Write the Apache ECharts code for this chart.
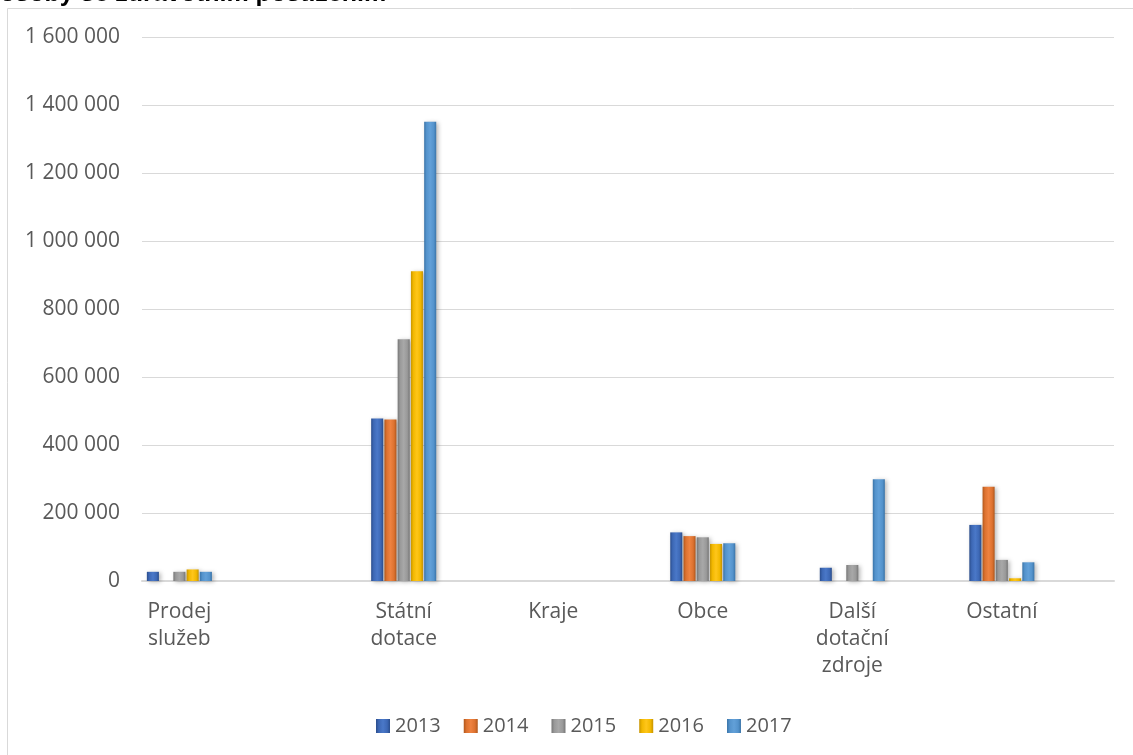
<!DOCTYPE html>
<html>
<head>
<meta charset="utf-8">
<title>Zdroje financování</title>
<script src="https://cdn.jsdelivr.net/npm/echarts@6/dist/echarts.min.js"></script>
<style>
  html, body { margin: 0; padding: 0; background: #ffffff; }
  #chart { width: 1133px; height: 755px; }
</style>
</head>
<body>
<div id="chart"></div>
<script>
// Funding sources by year
const categories = ['Prodej služeb', 'Státní dotace', 'Kraje', 'Obce', 'Další dotační zdroje', 'Ostatní'];
const years = ['2013', '2014', '2015', '2016', '2017'];
const values2013 = [27000, 478000, 0, 143000, 39000, 165000];
const values2014 = [0, 475000, 0, 132000, 0, 277000];
const values2015 = [27000, 711000, 0, 128500, 47000, 62000];
const values2016 = [34000, 911000, 0, 109000, 0, 8000];
const values2017 = [27000, 1351000, 0, 111000, 299000, 55000];
const yTicks = { min: 0, max: 1600000, step: 200000 };

// Category slots along the axis (narrow slots, some left empty as spacing)
const slotCount = 13;
const slotOf = [0, 3, 5, 7, 9, 11];

function spread(list) {
  const out = new Array(slotCount).fill(null);
  slotOf.forEach((s, i) => { out[s] = list[i]; });
  return out;
}
const axisNames = spread(categories).map(v => v === null ? '' : v);

// Bevel-like horizontal gradient per series
function bevel(dark, mid, light) {
  return {
    type: 'linear', x: 0, y: 0, x2: 1, y2: 0,
    colorStops: [
      { offset: 0, color: dark },
      { offset: 0.2, color: mid },
      { offset: 0.5, color: light },
      { offset: 0.8, color: mid },
      { offset: 1, color: dark }
    ]
  };
}
const palette = [
  bevel('#2a4d8c', '#3d68b5', '#4a78c8'),
  bevel('#b0571b', '#dd7230', '#ee8240'),
  bevel('#767676', '#999999', '#a8a8a8'),
  bevel('#c79400', '#f2b800', '#ffc61a'),
  bevel('#3a74a8', '#5493cc', '#62a0d8')
];
const seriesValues = [values2013, values2014, values2015, values2016, values2017];

const fontFamily = '"Open Sans", "Noto Sans", sans-serif';

function fmt(v) {
  return String(v).replace(/\B(?=(\d{3})+(?!\d))/g, ' ');
}

const chart = echarts.init(document.getElementById('chart'));
chart.setOption({
  animation: false,
  backgroundColor: '#ffffff',
  graphic: [
    {
      type: 'rect',
      shape: { x: 7.5, y: 8.5, width: 1200, height: 800 },
      style: { fill: 'none', stroke: '#d9d9d9', lineWidth: 1 },
      silent: true
    },
    {
      type: 'text',
      style: {
        x: 0, y: -6,
        text: 'osoby se zdravotním postižením',
        font: 'bold 25px "Liberation Sans", Arial, sans-serif',
        fill: '#000000',
        verticalAlign: 'middle'
      },
      silent: true
    }
  ],
  grid: { left: 142, right: 19, top: 37, bottom: 174, containLabel: false },
  legend: {
    data: years,
    left: 371,
    top: 711,
    icon: 'rect',
    itemWidth: 14,
    itemHeight: 14,
    itemGap: 23,
    textStyle: { color: '#595959', fontSize: 20, fontFamily: fontFamily }
  },
  xAxis: {
    type: 'category',
    data: axisNames,
    axisLine: { show: true, lineStyle: { color: '#d9d9d9', width: 2 } },
    axisTick: { show: false },
    axisLabel: {
      interval: 0,
      color: '#595959',
      fontSize: 21,
      fontFamily: fontFamily,
      margin: 18,
      lineHeight: 27,
      formatter: v => v.split(' ').join('\n')
    }
  },
  yAxis: {
    type: 'value',
    min: yTicks.min,
    max: yTicks.max,
    interval: yTicks.step,
    axisLine: { show: false },
    axisTick: { show: false },
    splitLine: { lineStyle: { color: '#d9d9d9', width: 1 } },
    axisLabel: {
      color: '#595959',
      fontSize: 21,
      fontFamily: fontFamily,
      margin: 22,
      formatter: fmt
    }
  },
  series: years.map((y, i) => ({
    name: y,
    type: 'bar',
    data: spread(seriesValues[i]),
    barGap: '10%',
    barCategoryGap: '13%',
    itemStyle: {
      color: palette[i],
      shadowColor: 'rgba(0,0,0,0.28)',
      shadowBlur: 4,
      shadowOffsetX: 2,
      shadowOffsetY: 1
    }
  }))
});
</script>
</body>
</html>
